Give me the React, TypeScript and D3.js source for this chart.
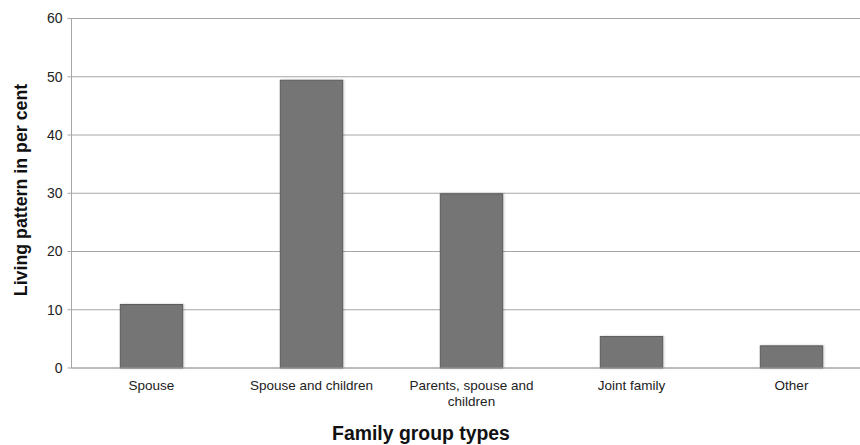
import React from "react";
import * as d3 from "d3";

const categories = ["Spouse", "Spouse and children", "Parents, spouse and children", "Joint family", "Other"];
const labelLines = [["Spouse"], ["Spouse and children"], ["Parents, spouse and", "children"], ["Joint family"], ["Other"]];
const values = [10.9, 49.4, 29.9, 5.4, 3.8];
const yTicks = [0, 10, 20, 30, 40, 50, 60];

const W = 860;
const H = 445;
const left = 71.5;
const right = 871.5;
const top = 18.5;
const bottom = 368;

export default function App() {
  const x = d3.scaleBand<string>().domain(categories).range([left, right]).paddingInner(0).paddingOuter(0);
  const y = d3.scaleLinear().domain([0, 60]).range([bottom, top]);
  const bw = x.bandwidth() * 0.39;
  const font = "Arial, 'Liberation Sans', Helvetica, sans-serif";

  return (
    <svg width={W} height={H} style={{ position: "absolute", left: 0, top: 0, background: "#fff" }} fontFamily={font}>
      <defs>
        <filter id="shadow" x="-20%" y="-20%" width="140%" height="140%">
          <feDropShadow dx="0.8" dy="0" stdDeviation="1.2" floodColor="#000" floodOpacity="0.22" />
        </filter>
      </defs>
      {yTicks.map((t) => (
        <g key={t}>
          <line x1={left - 4} x2={W} y1={y(t)} y2={y(t)} stroke="#a6a6a6" strokeWidth={1} />
          <text x={left - 9} y={y(t)} dy="0.35em" textAnchor="end" fontSize={14} fill="#222">
            {t}
          </text>
        </g>
      ))}
      <line x1={left} x2={left} y1={top} y2={bottom} stroke="#a6a6a6" strokeWidth={1} />
      {categories.map((c, i) => {
        const cx = (x(c) as number) + x.bandwidth() / 2;
        return (
          <g key={c}>
            <rect
              x={cx - bw / 2}
              y={y(values[i])}
              width={bw}
              height={bottom - y(values[i])}
              fill="#747474"
              stroke="#5c5c5c"
              strokeWidth={1}
              filter="url(#shadow)"
            />
            {labelLines[i].map((ln, j) => (
              <text key={j} x={cx} y={390 + j * 16} textAnchor="middle" fontSize={13.5} fill="#222">
                {ln}
              </text>
            ))}
          </g>
        );
      })}
      <line x1={left} x2={W} y1={bottom} y2={bottom} stroke="#a6a6a6" strokeWidth={1} />
      <text x={421} y={440} textAnchor="middle" fontSize={19.4} fontWeight="bold" fill="#111">
        Family group types
      </text>
      <text
        transform={`translate(27, 190) rotate(-90)`}
        textAnchor="middle"
        fontSize={17.8}
        fontWeight="bold"
        fill="#111"
      >
        Living pattern in per cent
      </text>
    </svg>
  );
}
